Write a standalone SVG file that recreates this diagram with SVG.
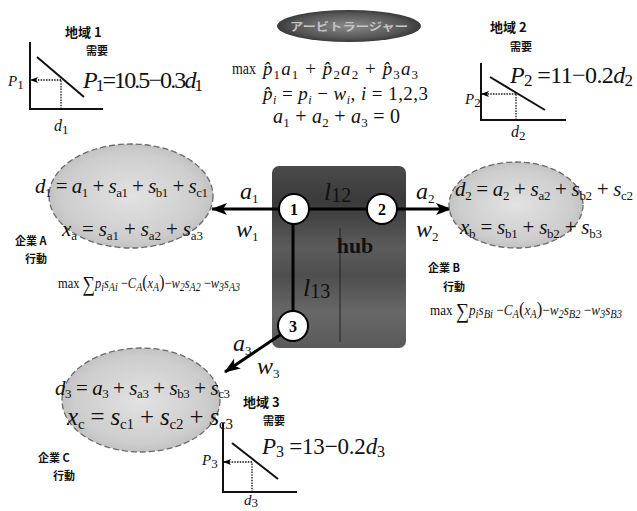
<svg xmlns="http://www.w3.org/2000/svg" width="637" height="511" viewBox="0 0 637 511">
<style>
.m{font-family:"Liberation Serif","Times New Roman",serif;fill:#111}
.i{font-style:italic}
.s{font-size:13px;font-style:normal}
.si{font-size:12px;font-style:italic}
.jp{font-family:"Noto Sans CJK JP","Noto Sans CJK SC",sans-serif;font-weight:700;fill:#111}
.ax{stroke:#111;stroke-width:2;fill:none}
.dl{stroke:#111;stroke-width:1.3;stroke-dasharray:1.5 1.2;fill:none}
.con{stroke:#000;stroke-width:3;fill:none}
.ell{fill:url(#eg);stroke:#6a6a6a;stroke-width:1.3;stroke-dasharray:6 3}
.nd{fill:#fff;stroke:#000;stroke-width:2}
.nt{font-family:"Liberation Serif",serif;font-weight:700;font-size:16px;text-anchor:middle;fill:#000}
</style>
<defs>
<radialGradient id="eg" cx="50%" cy="50%" r="60%">
<stop offset="0" stop-color="#e2e2e2"/><stop offset="0.7" stop-color="#cdcdcd"/><stop offset="1" stop-color="#b5b5b5"/>
</radialGradient>
<radialGradient id="og" cx="50%" cy="50%" r="55%">
<stop offset="0" stop-color="#8a8a8a"/><stop offset="0.7" stop-color="#555"/><stop offset="1" stop-color="#2e2e2e"/>
</radialGradient>
<linearGradient id="hg" x1="0" y1="0" x2="0" y2="1">
<stop offset="0" stop-color="#4a4a4a"/><stop offset="0.2" stop-color="#3a3a3a"/><stop offset="0.45" stop-color="#5c5c5c"/><stop offset="0.6" stop-color="#4e4e4e"/><stop offset="0.8" stop-color="#676767"/><stop offset="1" stop-color="#5a5a5a"/>
</linearGradient>
<marker id="arr" viewBox="0 0 16 12" refX="15" refY="6" markerWidth="16" markerHeight="12" markerUnits="userSpaceOnUse" orient="auto">
<path d="M0,0 L16,6 L0,12 L4,6 z" fill="#000"/>
</marker>
<marker id="arrs" viewBox="0 0 8 6" refX="7" refY="3" markerWidth="8" markerHeight="6" markerUnits="userSpaceOnUse" orient="auto">
<path d="M0,0 L8,3 L0,6 L2,3 z" fill="#000"/>
</marker>
</defs>
<rect width="637" height="511" fill="#fff"/>

<g id="node-hub">
<rect x="272" y="166" width="134" height="182" rx="7" fill="url(#hg)"/>
<line x1="340" y1="228" x2="340" y2="342" stroke="#222" stroke-width="1"/>
<text x="355" y="253" class="m" font-size="22" font-weight="700" text-anchor="middle" fill="#111">hub</text>
<text x="324" y="200" class="m" font-size="26" fill="#111"><tspan class="i">l</tspan><tspan font-size="20" dy="2">12</tspan></text>
<text x="303" y="296" class="m" font-size="26" fill="#111"><tspan class="i">l</tspan><tspan font-size="20" dy="2">13</tspan></text>
</g>

<g id="connectors">
<line class="con" x1="309" y1="209" x2="367" y2="209"/>
<line class="con" x1="293" y1="224" x2="293" y2="311"/>
<line class="con" x1="279" y1="209" x2="212" y2="209" marker-end="url(#arr)"/>
<line class="con" x1="397" y1="209" x2="451" y2="209" marker-end="url(#arr)"/>
<line class="con" x1="280" y1="335" x2="225" y2="372" stroke-width="2.2" marker-end="url(#arr)"/>
<text x="240" y="199" class="m i" font-size="24">a<tspan class="s" font-size="15" dy="4">1</tspan></text>
<text x="236" y="237" class="m i" font-size="24">w<tspan class="s" font-size="15" dy="4">1</tspan></text>
<text x="416" y="199" class="m i" font-size="24">a<tspan class="s" font-size="15" dy="4">2</tspan></text>
<text x="416" y="237" class="m i" font-size="24">w<tspan class="s" font-size="15" dy="4">2</tspan></text>
<text x="233" y="351" class="m i" font-size="24">a<tspan class="s" font-size="15" dy="4">3</tspan></text>
<text x="257" y="374" class="m i" font-size="24">w<tspan class="s" font-size="15" dy="4">3</tspan></text>
</g>

<g id="node-1"><circle class="nd" cx="294" cy="209" r="15"/><text class="nt" x="294" y="215">1</text></g>
<g id="node-2"><circle class="nd" cx="382" cy="209" r="15"/><text class="nt" x="382" y="215">2</text></g>
<g id="node-3"><circle class="nd" cx="293" cy="326" r="15"/><text class="nt" x="293" y="332">3</text></g>

<g id="node-arbitrager">
<ellipse cx="349" cy="26" rx="72" ry="16" fill="url(#og)"/>
<text x="290" y="31" class="jp" font-size="11" style="fill:#c4c4c4" textLength="118" lengthAdjust="spacingAndGlyphs">アービトラージャー</text>
<text x="232" y="74" class="m" font-size="16" textLength="24" lengthAdjust="spacingAndGlyphs">max</text>
<text x="263" y="75" class="m" font-size="19" textLength="155" lengthAdjust="spacing"><tspan class="i">p̂</tspan><tspan class="s" dy="4">1</tspan><tspan class="i" dy="-4">a</tspan><tspan class="s" dy="4">1</tspan><tspan dy="-4"> + </tspan><tspan class="i">p̂</tspan><tspan class="s" dy="4">2</tspan><tspan class="i" dy="-4">a</tspan><tspan class="s" dy="4">2</tspan><tspan dy="-4"> + </tspan><tspan class="i">p̂</tspan><tspan class="s" dy="4">3</tspan><tspan class="i" dy="-4">a</tspan><tspan class="s" dy="4">3</tspan></text>
<text x="263" y="100" class="m" font-size="19" textLength="165" lengthAdjust="spacing"><tspan class="i">p̂</tspan><tspan class="si" dy="4">i</tspan><tspan dy="-4"> = </tspan><tspan class="i">p</tspan><tspan class="si" dy="4">i</tspan><tspan dy="-4"> − </tspan><tspan class="i">w</tspan><tspan class="si" dy="4">i</tspan><tspan dy="-4">, </tspan><tspan class="i">i</tspan><tspan> = 1,2,3</tspan></text>
<text x="273" y="123" class="m" font-size="20" textLength="127" lengthAdjust="spacing"><tspan class="i">a</tspan><tspan class="s" dy="4">1</tspan><tspan dy="-4"> + </tspan><tspan class="i">a</tspan><tspan class="s" dy="4">2</tspan><tspan dy="-4"> + </tspan><tspan class="i">a</tspan><tspan class="s" dy="4">3</tspan><tspan dy="-4"> = 0</tspan></text>
</g>

<g id="node-region1">
<text x="65" y="37" class="jp" font-size="13">地域 1</text>
<text x="86" y="55" class="jp" font-size="11">需要</text>
<line class="ax" x1="30" y1="42" x2="30" y2="110"/>
<line class="ax" x1="29" y1="109" x2="103" y2="109"/>
<line class="ax" x1="37" y1="57" x2="84" y2="97"/>
<line class="dl" x1="61" y1="109" x2="61" y2="80"/>
<line class="dl" x1="61" y1="80" x2="31" y2="80" marker-end="url(#arrs)"/>
<text x="8" y="86" class="m i" font-size="15">P<tspan class="s" font-size="10" dy="3">1</tspan></text>
<text x="54" y="131" class="m i" font-size="16">d<tspan class="s" font-size="10" dy="3">1</tspan></text>
<text x="83" y="88" class="m" font-size="24" textLength="120" lengthAdjust="spacing"><tspan class="i">P</tspan><tspan font-size="17" dy="3">1</tspan><tspan dy="-3">=10.5−0.3</tspan><tspan class="i">d</tspan><tspan font-size="17" dy="3">1</tspan></text>
</g>

<g id="node-region2">
<text x="490" y="32" class="jp" font-size="13">地域 2</text>
<text x="510" y="51" class="jp" font-size="11">需要</text>
<line class="ax" x1="481" y1="63" x2="481" y2="121"/>
<line class="ax" x1="480" y1="120" x2="566" y2="120"/>
<line class="ax" x1="490" y1="77" x2="545" y2="110"/>
<line class="dl" x1="516" y1="120" x2="516" y2="94"/>
<line class="dl" x1="516" y1="94" x2="482" y2="94" marker-end="url(#arrs)"/>
<text x="465" y="104" class="m i" font-size="15">P<tspan class="s" font-size="10" dy="3">2</tspan></text>
<text x="511" y="137" class="m i" font-size="16">d<tspan class="s" font-size="10" dy="3">2</tspan></text>
<text x="510" y="83" class="m" font-size="24" textLength="123" lengthAdjust="spacing"><tspan class="i">P</tspan><tspan font-size="17" dy="3">2</tspan><tspan dy="-3"> =11−0.2</tspan><tspan class="i">d</tspan><tspan font-size="17" dy="3">2</tspan></text>
</g>

<g id="node-region3">
<text x="243" y="407" class="jp" font-size="13">地域 3</text>
<text x="263" y="425" class="jp" font-size="11">需要</text>
<line class="ax" x1="223" y1="423" x2="223" y2="493"/>
<line class="ax" x1="222" y1="492" x2="297" y2="492"/>
<line class="ax" x1="232" y1="443" x2="278" y2="479"/>
<line class="dl" x1="252" y1="492" x2="252" y2="462"/>
<line class="dl" x1="252" y1="462" x2="224" y2="462" marker-end="url(#arrs)"/>
<text x="202" y="465" class="m i" font-size="15">P<tspan class="s" font-size="10" dy="3">3</tspan></text>
<text x="244" y="505" class="m i" font-size="15">d<tspan class="s" font-size="9" dy="2">3</tspan></text>
<text x="262" y="454" class="m" font-size="23" textLength="123" lengthAdjust="spacing"><tspan class="i">P</tspan><tspan font-size="16" dy="3">3</tspan><tspan dy="-3"> =13−0.2</tspan><tspan class="i">d</tspan><tspan font-size="16" dy="3">3</tspan></text>
</g>

<g id="node-firmA">
<ellipse class="ell" cx="131" cy="196" rx="82" ry="52"/>
<text x="35" y="193" class="m" font-size="21" textLength="173" lengthAdjust="spacing"><tspan class="i">d</tspan><tspan class="s" dy="4">1</tspan><tspan dy="-4"> = </tspan><tspan class="i">a</tspan><tspan class="s" dy="4">1</tspan><tspan dy="-4"> + </tspan><tspan class="i">s</tspan><tspan class="s" dy="4">a1</tspan><tspan dy="-4"> + </tspan><tspan class="i">s</tspan><tspan class="s" dy="4">b1</tspan><tspan dy="-4"> + </tspan><tspan class="i">s</tspan><tspan class="s" dy="4">c1</tspan></text>
<text x="62" y="236" class="m" font-size="21" textLength="141" lengthAdjust="spacing"><tspan class="i">x</tspan><tspan class="s" dy="4">a</tspan><tspan dy="-4"> = </tspan><tspan class="i">s</tspan><tspan class="s" dy="4">a1</tspan><tspan dy="-4"> + </tspan><tspan class="i">s</tspan><tspan class="s" dy="4">a2</tspan><tspan dy="-4"> + </tspan><tspan class="i">s</tspan><tspan class="s" dy="4">a3</tspan></text>
<text x="15" y="245" class="jp" font-size="11">企業 A</text>
<text x="25" y="263" class="jp" font-size="11">行動</text>
<text x="58" y="288" class="m" font-size="15" textLength="182" lengthAdjust="spacingAndGlyphs">max <tspan font-size="21" dy="3">∑</tspan><tspan class="i" dy="-3">p</tspan><tspan class="si" font-size="10" dy="3">i</tspan><tspan class="i" dy="-3">s</tspan><tspan class="si" font-size="10" dy="3">Ai</tspan><tspan dy="-3"> −</tspan><tspan class="i">C</tspan><tspan class="si" font-size="10" dy="3">A</tspan><tspan dy="-3" font-size="19">(</tspan><tspan class="i">x</tspan><tspan class="si" font-size="10" dy="3">A</tspan><tspan dy="-3" font-size="19">)</tspan><tspan>−</tspan><tspan class="i">w</tspan><tspan class="si" font-size="10" dy="3">2</tspan><tspan class="i" dy="-3">s</tspan><tspan class="si" font-size="10" dy="3">A2</tspan><tspan dy="-3"> −</tspan><tspan class="i">w</tspan><tspan class="si" font-size="10" dy="3">3</tspan><tspan class="i" dy="-3">s</tspan><tspan class="si" font-size="10" dy="3">A3</tspan></text>
</g>

<g id="node-firmB">
<ellipse class="ell" cx="516" cy="205" rx="67" ry="43"/>
<text x="455" y="196" class="m" font-size="21" textLength="178" lengthAdjust="spacing"><tspan class="i">d</tspan><tspan class="s" dy="4">2</tspan><tspan dy="-4"> = </tspan><tspan class="i">a</tspan><tspan class="s" dy="4">2</tspan><tspan dy="-4"> + </tspan><tspan class="i">s</tspan><tspan class="s" dy="4">a2</tspan><tspan dy="-4"> + </tspan><tspan class="i">s</tspan><tspan class="s" dy="4">b2</tspan><tspan dy="-4"> + </tspan><tspan class="i">s</tspan><tspan class="s" dy="4">c2</tspan></text>
<text x="460" y="234" class="m" font-size="21" textLength="142" lengthAdjust="spacing"><tspan class="i">x</tspan><tspan class="s" dy="4">b</tspan><tspan dy="-4"> = </tspan><tspan class="i">s</tspan><tspan class="s" dy="4">b1</tspan><tspan dy="-4"> + </tspan><tspan class="i">s</tspan><tspan class="s" dy="4">b2</tspan><tspan dy="-4"> + </tspan><tspan class="i">s</tspan><tspan class="s" dy="4">b3</tspan></text>
<text x="428" y="272" class="jp" font-size="11">企業 B</text>
<text x="443" y="291" class="jp" font-size="11">行動</text>
<text x="430" y="315" class="m" font-size="15" textLength="192" lengthAdjust="spacingAndGlyphs">max <tspan font-size="21" dy="3">∑</tspan><tspan class="i" dy="-3">p</tspan><tspan class="si" font-size="10" dy="3">i</tspan><tspan class="i" dy="-3">s</tspan><tspan class="si" font-size="10" dy="3">Bi</tspan><tspan dy="-3"> −</tspan><tspan class="i">C</tspan><tspan class="si" font-size="10" dy="3">A</tspan><tspan dy="-3" font-size="19">(</tspan><tspan class="i">x</tspan><tspan class="si" font-size="10" dy="3">A</tspan><tspan dy="-3" font-size="19">)</tspan><tspan>−</tspan><tspan class="i">w</tspan><tspan class="si" font-size="10" dy="3">2</tspan><tspan class="i" dy="-3">s</tspan><tspan class="si" font-size="10" dy="3">B2</tspan><tspan dy="-3"> −</tspan><tspan class="i">w</tspan><tspan class="si" font-size="10" dy="3">3</tspan><tspan class="i" dy="-3">s</tspan><tspan class="si" font-size="10" dy="3">B3</tspan></text>
</g>

<g id="node-firmC">
<ellipse class="ell" cx="141" cy="400" rx="79" ry="52"/>
<text x="55" y="395" class="m" font-size="21" textLength="175" lengthAdjust="spacing"><tspan class="i">d</tspan><tspan class="s" dy="3">3</tspan><tspan dy="-3"> = </tspan><tspan class="i">a</tspan><tspan class="s" dy="3">3</tspan><tspan dy="-3"> + </tspan><tspan class="i">s</tspan><tspan class="s" dy="3">a3</tspan><tspan dy="-3"> + </tspan><tspan class="i">s</tspan><tspan class="s" dy="3">b3</tspan><tspan dy="-3"> + </tspan><tspan class="i">s</tspan><tspan class="s" dy="3">c3</tspan></text>
<text x="67" y="425" class="m" font-size="25" textLength="166" lengthAdjust="spacing"><tspan class="i">x</tspan><tspan font-size="15" dy="4">c</tspan><tspan dy="-4"> = </tspan><tspan class="i">s</tspan><tspan font-size="15" dy="4">c1</tspan><tspan dy="-4"> + </tspan><tspan class="i">s</tspan><tspan font-size="15" dy="4">c2</tspan><tspan dy="-4"> + </tspan><tspan class="i">s</tspan><tspan font-size="15" dy="4">c3</tspan></text>
<text x="38" y="462" class="jp" font-size="11">企業 C</text>
<text x="53" y="480" class="jp" font-size="11">行動</text>
</g>
</svg>
